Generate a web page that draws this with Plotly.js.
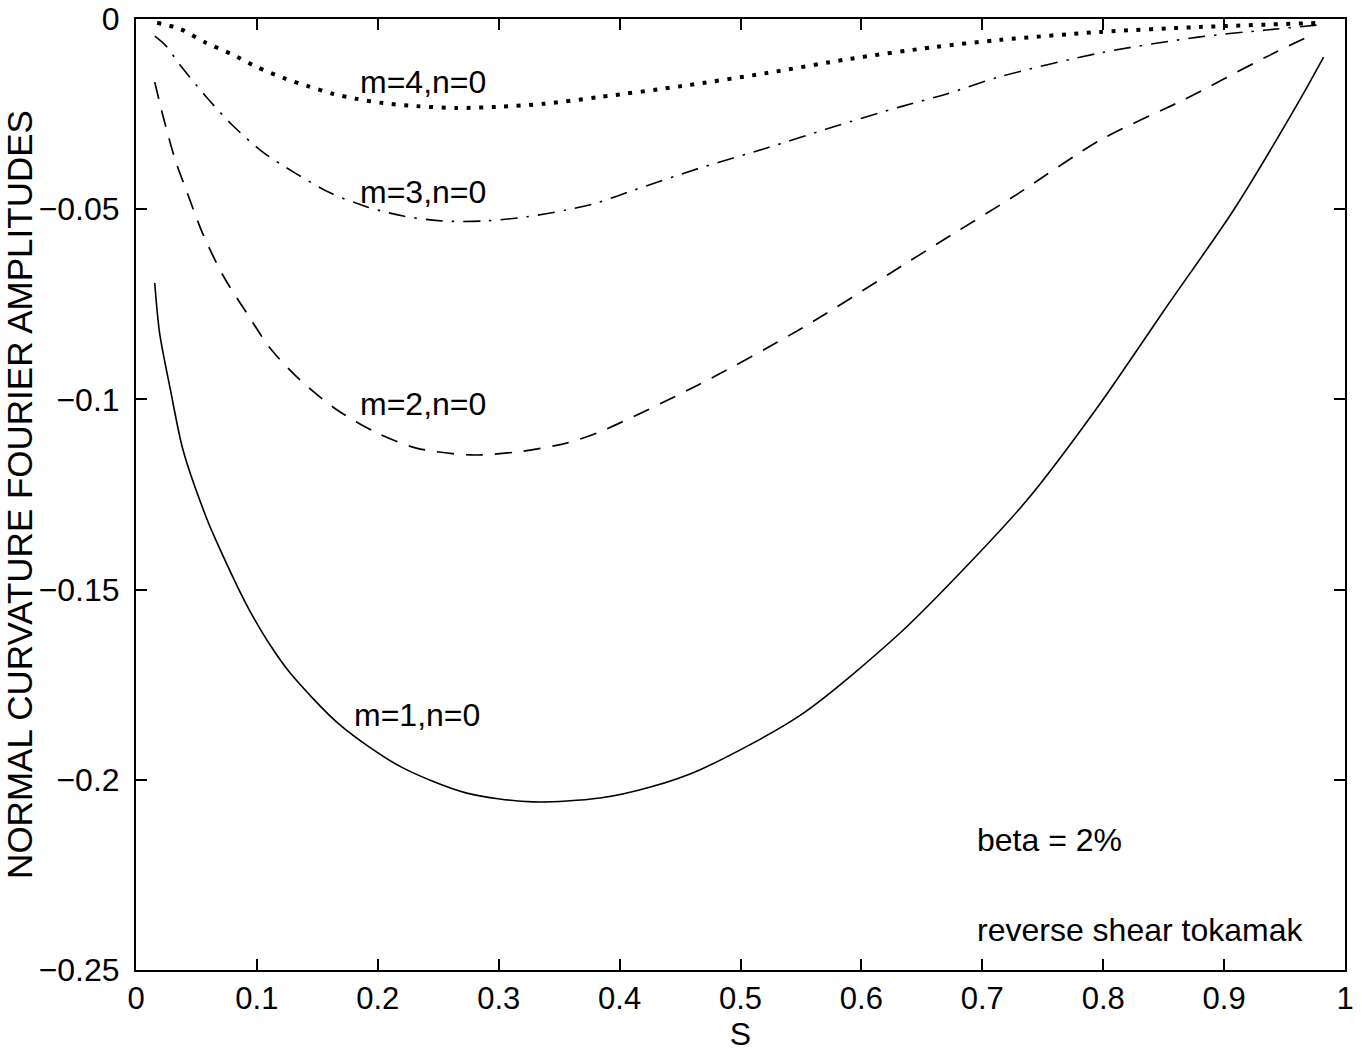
<!DOCTYPE html>
<html>
<head>
<meta charset="utf-8">
<script src="https://cdn.plot.ly/plotly-3.0.1.min.js"></script>
<style>html,body{margin:0;padding:0;background:#fff;}#chart{width:1362px;height:1052px;}</style>
</head>
<body>
<div id="chart"></div>
<script>
// m=1,n=0 (solid)
const s_m1 = [0.0155,0.0195,0.0285,0.0389,0.0587,0.0661,0.0836,0.094,0.1108,0.1277,0.1684,0.218,0.2736,0.3282,0.3838,0.4255,0.4662,0.5496,0.632,0.6865,0.7372,0.7977,0.8523,0.9079,0.9625,0.9823];
const v_m1 = [-0.0694,-0.0825,-0.0975,-0.1133,-0.1315,-0.137,-0.149,-0.1555,-0.1645,-0.172,-0.1855,-0.1964,-0.2035,-0.2058,-0.2048,-0.2019,-0.1974,-0.183,-0.1614,-0.144,-0.1264,-0.101,-0.0757,-0.0502,-0.0213,-0.010];
// m=2,n=0 (dashed)
const s_m2 = [0.0155,0.0225,0.0324,0.0424,0.0553,0.0721,0.092,0.1108,0.1357,0.1664,0.1992,0.2319,0.2766,0.3153,0.356,0.3838,0.4662,0.5496,0.632,0.6677,0.7252,0.7977,0.8662,0.9347,0.9724];
const v_m2 = [-0.0166,-0.0257,-0.037,-0.0457,-0.0565,-0.0675,-0.0775,-0.0865,-0.0949,-0.1028,-0.1088,-0.1128,-0.1146,-0.1138,-0.1115,-0.1085,-0.096,-0.0815,-0.0652,-0.0581,-0.0468,-0.0318,-0.0213,-0.010,-0.0042];
// m=3,n=0 (dash-dot)
const s_m3 = [0.0155,0.024,0.0374,0.0582,0.08,0.1049,0.1317,0.1605,0.1912,0.221,0.2538,0.2875,0.3232,0.356,0.3808,0.4116,0.4662,0.5218,0.5764,0.632,0.6706,0.7143,0.7977,0.88,0.9347,0.9764];
const v_m3 = [-0.0045,-0.0068,-0.0125,-0.0205,-0.028,-0.035,-0.0405,-0.0457,-0.0494,-0.0518,-0.0531,-0.0531,-0.052,-0.0502,-0.0484,-0.045,-0.0392,-0.0339,-0.0284,-0.0231,-0.0197,-0.0152,-0.0089,-0.0047,-0.0029,-0.0016];
// m=4,n=0 (dotted)
const s_m4 = [0.0175,0.0364,0.0582,0.079,0.0999,0.1218,0.1416,0.1634,0.1823,0.2041,0.2319,0.2657,0.2984,0.3371,0.3838,0.4523,0.5218,0.5902,0.6597,0.7143,0.7977,0.88,0.9813];
const v_m4 = [-0.001,-0.0026,-0.0063,-0.0092,-0.0126,-0.0155,-0.0176,-0.0197,-0.021,-0.0221,-0.0229,-0.0234,-0.0231,-0.0223,-0.0205,-0.0176,-0.0142,-0.0105,-0.0074,-0.0055,-0.0034,-0.0021,-0.001];

const xTickVals = [0,0.1,0.2,0.3,0.4,0.5,0.6,0.7,0.8,0.9,1];
const xTickText = ['0','0.1','0.2','0.3','0.4','0.5','0.6','0.7','0.8','0.9','1'];
const yTickVals = [0,-0.05,-0.1,-0.15,-0.2,-0.25];
const yTickText = ['0','\u22120.05','\u22120.1','\u22120.15','\u22120.2','\u22120.25'];

const labels = ['m=1,n=0','m=2,n=0','m=3,n=0','m=4,n=0'];
const notes = ['beta = 2%','reverse shear tokamak'];

const FONT = 'Liberation Sans, Arial, Helvetica, sans-serif';

const traces = [
  {x:s_m1, y:v_m1, mode:'lines', line:{color:'#000', width:1.6, dash:'solid', shape:'spline', smoothing:0.8}, name:labels[0]},
  {x:s_m2, y:v_m2, mode:'lines', line:{color:'#000', width:1.7, dash:'17px,12px', shape:'spline', smoothing:0.8}, name:labels[1]},
  {x:s_m3, y:v_m3, mode:'lines', line:{color:'#000', width:1.6, dash:'17px,9px,2.5px,9px', shape:'spline', smoothing:0.8}, name:labels[2]},
  {x:s_m4, y:v_m4, mode:'lines', line:{color:'#000', width:4, dash:'4px,8.5px', shape:'spline', smoothing:0.8}, name:labels[3]}
];

const ann = (text, x, y) => ({text, x, y, xref:'x', yref:'y', xanchor:'left', yanchor:'middle', showarrow:false, font:{family:FONT, size:32, color:'#000'}});

const layout = {
  width:1362, height:1052,
  margin:{l:136, r:17, t:19, b:82},
  paper_bgcolor:'#fff', plot_bgcolor:'#fff',
  showlegend:false,
  font:{family:FONT, size:32, color:'#000'},
  xaxis:{
    range:[0,1], tickvals:xTickVals, ticktext:xTickText,
    ticks:'inside', ticklen:11, tickwidth:2, tickcolor:'#000',
    showline:true, linecolor:'#000', linewidth:2, mirror:'ticks',
    showgrid:false, zeroline:false,
    tickfont:{family:FONT, size:31, color:'#000'},
    title:{text:'S', font:{family:FONT, size:32, color:'#000'}, standoff:7}
  },
  yaxis:{
    range:[-0.25,0], tickvals:yTickVals, ticktext:yTickText,
    ticks:'inside', ticklen:11, tickwidth:2, tickcolor:'#000',
    showline:true, linecolor:'#000', linewidth:2, mirror:'ticks',
    showgrid:false, zeroline:false,
    ticklabelstandoff:8,
    tickfont:{family:FONT, size:32, color:'#000'},
    title:{text:'NORMAL CURVATURE FOURIER AMPLITUDES', font:{family:FONT, size:35, color:'#000'}, standoff:6}
  },
  annotations:[
    ann(labels[3], 0.1836, -0.0166),
    ann(labels[2], 0.1836, -0.0455),
    ann(labels[1], 0.1836, -0.1012),
    ann(labels[0], 0.1787, -0.183),
    ann(notes[0], 0.694, -0.2158),
    ann(notes[1], 0.694, -0.2395)
  ]
};

Plotly.newPlot('chart', traces, layout, {displayModeBar:false, staticPlot:true});
</script>
</body>
</html>
